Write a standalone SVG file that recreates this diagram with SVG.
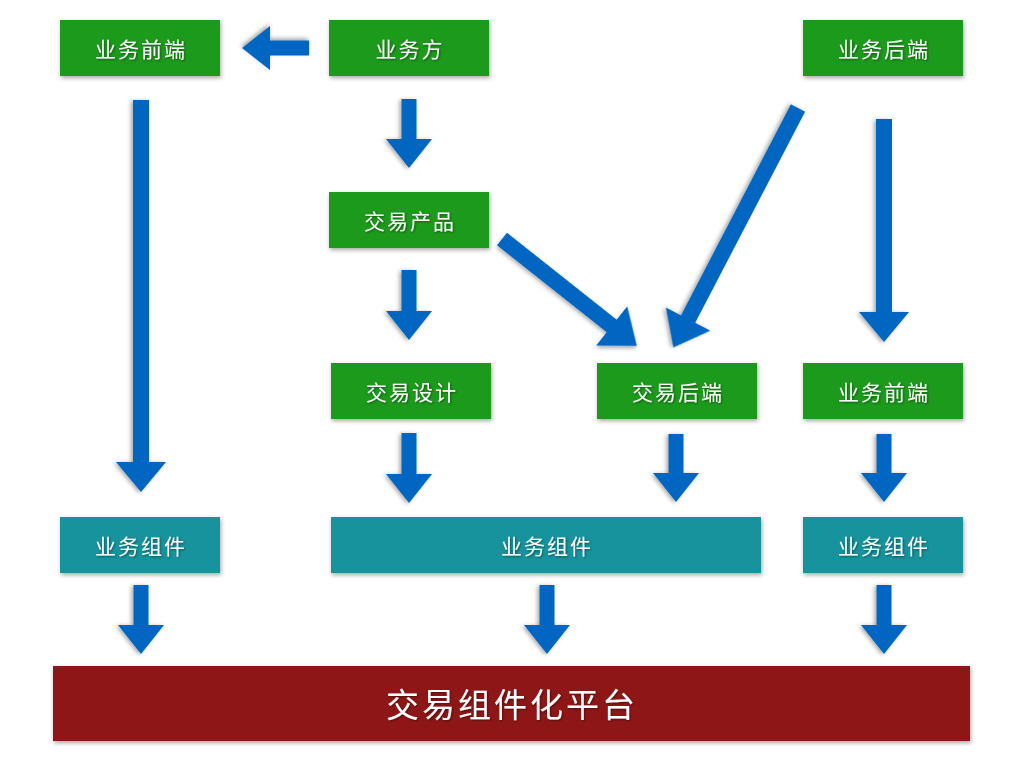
<svg xmlns="http://www.w3.org/2000/svg" width="1024" height="768" viewBox="0 0 1024 768">
<defs>
<filter id="sh" x="-20%" y="-20%" width="140%" height="140%">
<feDropShadow dx="1" dy="2" stdDeviation="2" flood-color="#000" flood-opacity="0.35"/>
</filter>
<filter id="tsh" x="-10%" y="-10%" width="120%" height="130%">
<feDropShadow dx="1" dy="1" stdDeviation="0.8" flood-color="#000" flood-opacity="0.45"/>
</filter>
<style>
.g{fill:#1b9a1f;filter:url(#sh)}
.t{fill:#14939c;filter:url(#sh)}
.r{fill:#8f1717;filter:url(#sh)}
.a{fill:#0366c2;filter:url(#sh)}
.lb{font-family:"Noto Sans CJK SC","Noto Sans",sans-serif;font-size:21px;fill:#fff;text-anchor:middle;dominant-baseline:central;letter-spacing:2px;filter:url(#tsh)}
.big{font-size:33px;letter-spacing:3px}
</style>
</defs>
<rect width="1024" height="768" fill="#fff"/>
<g id="n-qianduan1"><rect class="g" x="60" y="20" width="160" height="56"/><text class="lb" x="141" y="48">业务前端</text></g>
<g id="n-yewufang"><rect class="g" x="329" y="20" width="160" height="56"/><text class="lb" x="410" y="48">业务方</text></g>
<g id="n-houduan1"><rect class="g" x="803" y="20" width="160" height="56"/><text class="lb" x="884" y="48">业务后端</text></g>
<g id="n-chanpin"><rect class="g" x="329" y="192" width="160" height="56"/><text class="lb" x="410" y="220">交易产品</text></g>
<g id="n-sheji"><rect class="g" x="331" y="363" width="160" height="56"/><text class="lb" x="412" y="391">交易设计</text></g>
<g id="n-jyhouduan"><rect class="g" x="597" y="363" width="160" height="56"/><text class="lb" x="678" y="391">交易后端</text></g>
<g id="n-qianduan2"><rect class="g" x="803" y="363" width="160" height="56"/><text class="lb" x="884" y="391">业务前端</text></g>
<g id="n-zujian1"><rect class="t" x="60" y="517" width="160" height="56"/><text class="lb" x="141" y="545">业务组件</text></g>
<g id="n-zujian2"><rect class="t" x="331" y="517" width="430" height="56"/><text class="lb" x="547" y="545">业务组件</text></g>
<g id="n-zujian3"><rect class="t" x="803" y="517" width="160" height="56"/><text class="lb" x="884" y="545">业务组件</text></g>
<g id="n-platform"><rect class="r" x="53" y="666" width="917" height="75"/><text class="lb big" x="512" y="703">交易组件化平台</text></g>
<g id="connectors">
<path class="a" transform="translate(309,48) rotate(180)" d="M0,-7.5 L39,-7.5 L39,-22 L67,0 L39,22 L39,7.5 L0,7.5 Z"/>
<path class="a" transform="translate(141,100) rotate(90)" d="M0,-8 L362,-8 L362,-25 L392,0 L362,25 L362,8 L0,8 Z"/>
<path class="a" transform="translate(884,119) rotate(90)" d="M0,-8 L193,-8 L193,-25 L223,0 L193,25 L193,8 L0,8 Z"/>
<path class="a" transform="translate(409,99) rotate(90)" d="M0,-7.5 L40,-7.5 L40,-23 L69,0 L40,23 L40,7.5 L0,7.5 Z"/>
<path class="a" transform="translate(409,270) rotate(90)" d="M0,-7.5 L41,-7.5 L41,-23 L70,0 L41,23 L41,7.5 L0,7.5 Z"/>
<path class="a" transform="translate(409,433) rotate(90)" d="M0,-7.5 L41,-7.5 L41,-23 L70,0 L41,23 L41,7.5 L0,7.5 Z"/>
<path class="a" transform="translate(676,434) rotate(90)" d="M0,-7.5 L39,-7.5 L39,-23 L68,0 L39,23 L39,7.5 L0,7.5 Z"/>
<path class="a" transform="translate(884,434) rotate(90)" d="M0,-7.5 L39,-7.5 L39,-23 L68,0 L39,23 L39,7.5 L0,7.5 Z"/>
<path class="a" transform="translate(141,585) rotate(90)" d="M0,-7.5 L40,-7.5 L40,-23 L69,0 L40,23 L40,7.5 L0,7.5 Z"/>
<path class="a" transform="translate(547,585) rotate(90)" d="M0,-7.5 L40,-7.5 L40,-23 L69,0 L40,23 L40,7.5 L0,7.5 Z"/>
<path class="a" transform="translate(884,585) rotate(90)" d="M0,-7.5 L40,-7.5 L40,-23 L69,0 L40,23 L40,7.5 L0,7.5 Z"/>
<path class="a" transform="translate(502,239) rotate(38.4)" d="M0,-8 L140,-8 L140,-25 L172,0 L140,25 L140,8 L0,8 Z"/>
<path class="a" transform="translate(798,108) rotate(117.5)" d="M0,-8 L238,-8 L238,-25 L270,0 L238,25 L238,8 L0,8 Z"/>
</g>
</svg>
